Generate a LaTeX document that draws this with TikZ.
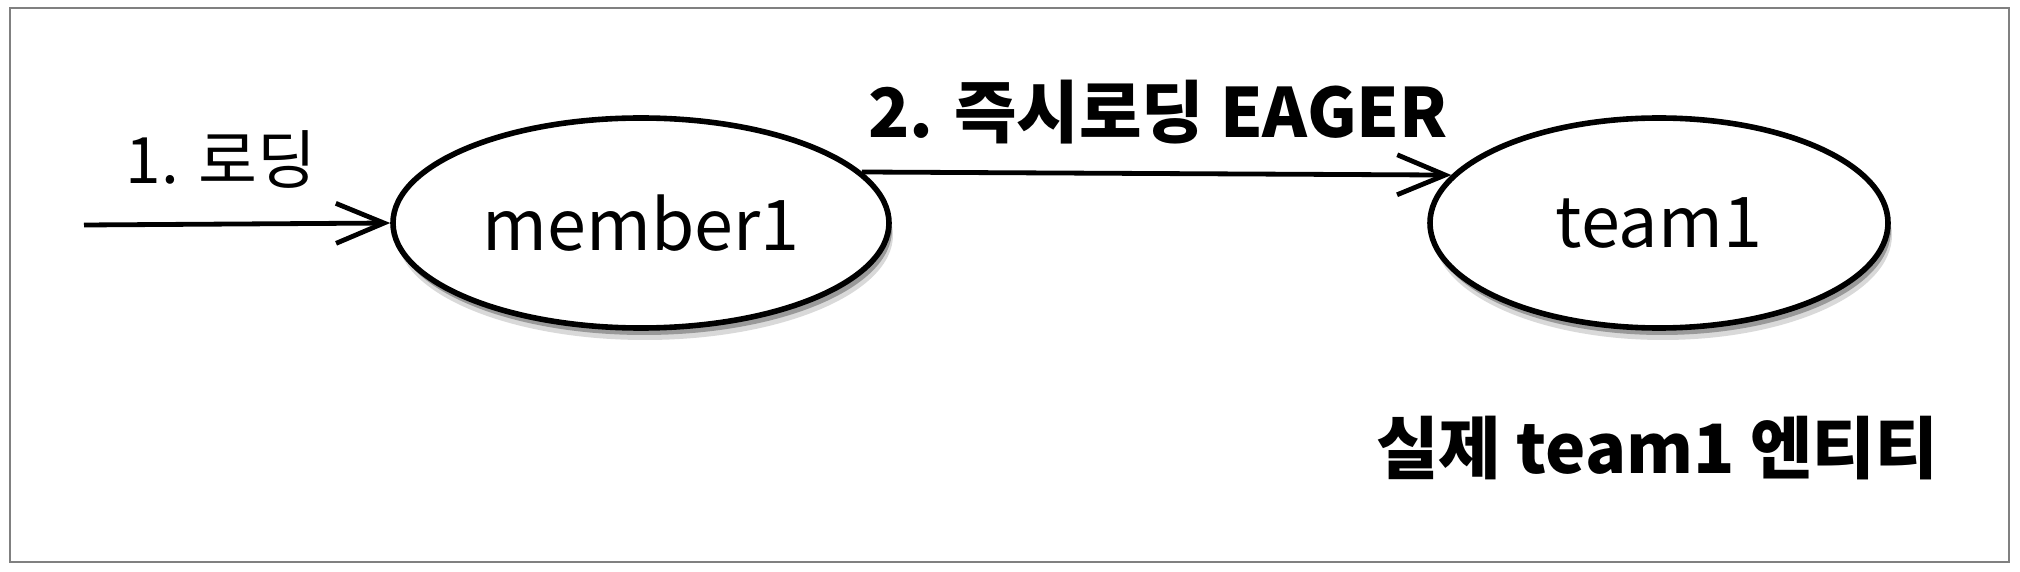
\documentclass[tikz,border=0pt]{standalone}
\usepackage{fontspec}
\setmainfont{Noto Sans CJK KR}
\usetikzlibrary{arrows.meta,shadows,shapes.geometric}
\begin{document}
\begin{tikzpicture}[x=0.5pt,y=-0.5pt,
    entity/.style={ellipse,draw,line width=2.8pt,fill=white,inner sep=0pt,
      minimum height=105pt,font=\fontsize{35}{38}\selectfont,
      drop shadow={shadow xshift=2pt,shadow yshift=-6pt,opacity=0.25,fill=black!60},
      drop shadow={shadow xshift=1.5pt,shadow yshift=-3.5pt,opacity=0.45,fill=black!70}},
    load/.style={line width=2.4pt,-{Straight Barb[length=24pt,width=20pt,line width=2.4pt]}},
    lbl/.style={inner sep=0pt,font=\fontsize{32}{36}\selectfont},
    boldlbl/.style={inner sep=0pt,font=\fontsize{34}{38}\selectfont\bfseries}]
    \useasboundingbox (0,0) rectangle (2020,572);
    \draw[gray,line width=1pt] (10,8) rectangle (2009,562);

    \node[entity,minimum width=248pt] (m1) at (641,223) {member1};
    \node[entity,minimum width=229pt] (t1) at (1659,223) {team1};
    \coordinate (start) at (84,225);

    \node[lbl] (l1) at (221,160) {1. 로딩};
    \node[boldlbl] (l2) at (1158,112) {2. 즉시로딩 EAGER};
    \node[boldlbl] (real) at (1657,448) {실제 team1 엔티티};

    \draw[load] (start) -- (m1.west);
    \draw[load] (m1.13) -- (t1.167);
\end{tikzpicture}
\end{document}
